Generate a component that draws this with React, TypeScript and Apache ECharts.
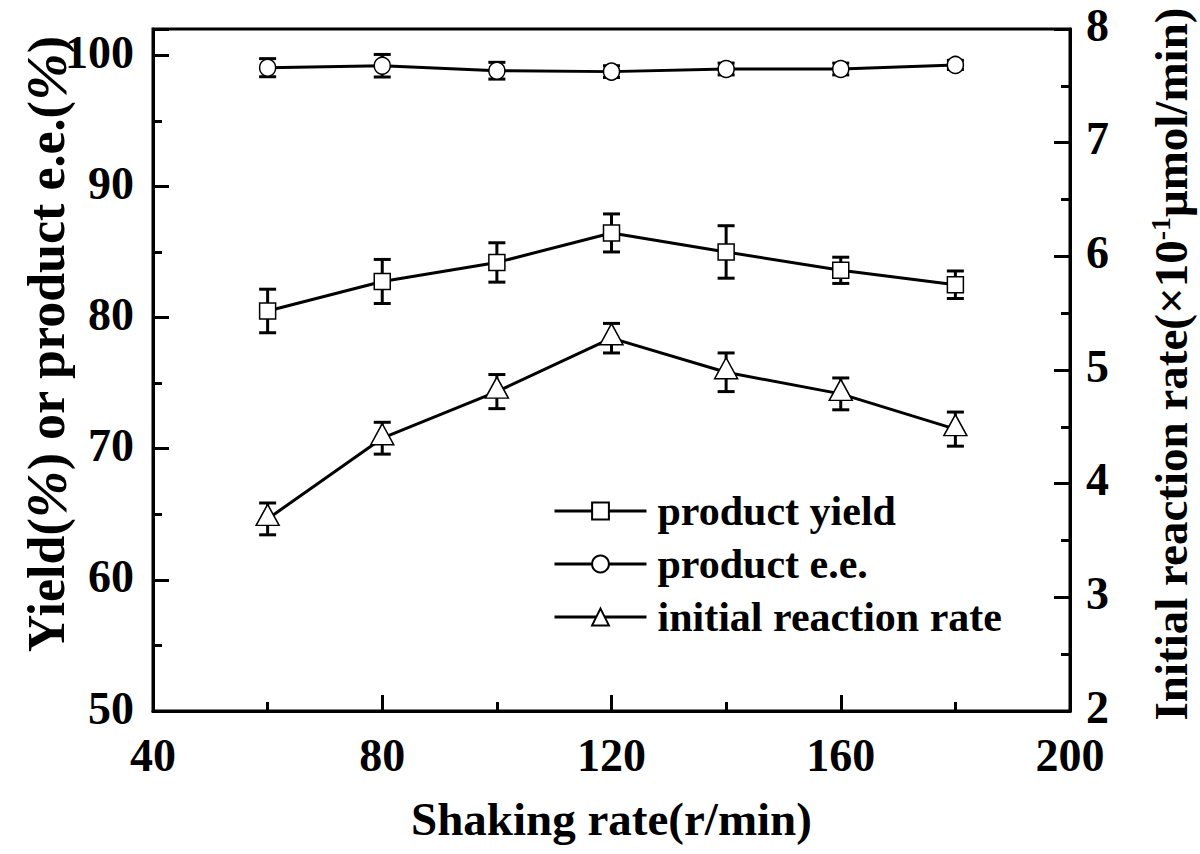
import { useEffect, useRef } from 'react';
import * as echarts from 'echarts';

const shakingRates = [60, 80, 100, 120, 140, 160, 180];
const yieldValues = [80.5, 82.75, 84.2, 86.45, 85.0, 83.6, 82.5];
const yieldErrors = [1.66, 1.68, 1.5, 1.45, 2.0, 1.0, 1.05];
const eeValues = [99.05, 99.2, 98.82, 98.75, 98.95, 98.95, 99.26];
const eeErrors = [0.69, 0.86, 0.64, 0.45, 0.45, 0.45, 0.35];
const rateValues = [3.69, 4.4, 4.81, 5.28, 4.98, 4.79, 4.48];
const rateErrors = [0.14, 0.14, 0.15, 0.13, 0.17, 0.14, 0.15];
const seriesNames = ['product yield', 'product e.e.', 'initial reaction rate'];
const leftTicks = [50, 60, 70, 80, 90, 100];

const FONT = "'Liberation Serif', 'Times New Roman', serif";

function pairs(vals: number[]) {
  return shakingRates.map((x, i) => [x, vals[i]]);
}
function errData(vals: number[], errs: number[]) {
  return shakingRates.map((x, i) => [x, vals[i] - errs[i], vals[i] + errs[i]]);
}

function errorBarSeries(vals: number[], errs: number[], yAxisIndex: number) {
  return {
    type: 'custom',
    yAxisIndex,
    z: 1,
    silent: true,
    data: errData(vals, errs),
    encode: { x: 0, y: [1, 2] },
    renderItem: (params: any, api: any) => {
      const x = api.value(0);
      const lo = api.coord([x, api.value(1)]);
      const hi = api.coord([x, api.value(2)]);
      const hw = 8.5;
      const st = { stroke: '#000', lineWidth: 3 };
      return {
        type: 'group',
        children: [
          { type: 'line', shape: { x1: lo[0], y1: lo[1], x2: hi[0], y2: hi[1] }, style: st },
          { type: 'line', shape: { x1: lo[0] - hw, y1: lo[1], x2: lo[0] + hw, y2: lo[1] }, style: st },
          { type: 'line', shape: { x1: hi[0] - hw, y1: hi[1], x2: hi[0] + hw, y2: hi[1] }, style: st },
        ],
      };
    },
  };
}

export default function App() {
  const ref = useRef<HTMLDivElement>(null);
  useEffect(() => {
    if (!ref.current) return;
    const chart = echarts.init(ref.current, null, { renderer: 'svg' });
    const labelStyle = { fontFamily: FONT, fontWeight: 'bold', fontSize: 46, color: '#000' };
    const markerStyle = { color: '#fff', borderColor: '#000', borderWidth: 1.5 };
    const lineStyle = { color: '#000', width: 3 };
    chart.setOption({
      animation: false,
      backgroundColor: '#fff',
      grid: { left: 153, right: 130, top: 29, bottom: 143, show: true, borderColor: '#000', borderWidth: 3 },
      xAxis: {
        type: 'value',
        min: 40,
        max: 200,
        interval: 40,
        name: 'Shaking rate(r/min)',
        nameLocation: 'middle',
        nameGap: 84,
        nameTextStyle: { fontFamily: FONT, fontWeight: 'bold', fontSize: 47, color: '#000' },
        axisLine: { lineStyle: { color: '#000', width: 3 } },
        axisTick: { inside: true, length: 16, lineStyle: { color: '#000', width: 3 } },
        minorTick: { show: true, splitNumber: 2, length: 9, lineStyle: { color: '#000', width: 3 } },
        axisLabel: { ...labelStyle, lineHeight: 36, margin: 26 },
        splitLine: { show: false },
      },
      yAxis: [
        {
          type: 'value',
          position: 'left',
          min: 50,
          max: 102,
          interval: 10,
          axisLine: { show: true, lineStyle: { color: '#000', width: 3 } },
          axisTick: { show: true, inside: true, length: 16, lineStyle: { color: '#000', width: 3 } },
          axisLabel: {
            ...labelStyle,
            margin: 19,
            lineHeight: 6,
            verticalAlign: 'bottom',
            formatter: (v: number) => (leftTicks.includes(v) ? String(v) : ''),
          },
          splitLine: { show: false },
        },
        {
          type: 'value',
          position: 'right',
          min: 2,
          max: 8,
          interval: 1,
          axisLine: { show: true, lineStyle: { color: '#000', width: 3 } },
          axisTick: { show: true, inside: true, length: 16, lineStyle: { color: '#000', width: 3 } },
          minorTick: { show: true, splitNumber: 2, length: 9, lineStyle: { color: '#000', width: 3 } },
          axisLabel: { ...labelStyle, margin: 16, lineHeight: 8, verticalAlign: 'bottom' },
          splitLine: { show: false },
        },
        {
          type: 'value',
          position: 'left',
          min: 50,
          max: 102,
          interval: 5,
          axisLine: { show: false },
          axisTick: { show: true, inside: true, length: 9, lineStyle: { color: '#000', width: 3 } },
          axisLabel: { show: false },
          splitLine: { show: false },
        },
      ],
      legend: {
        orient: 'vertical',
        left: 548,
        top: 485,
        itemWidth: 92,
        itemHeight: 21,
        itemGap: 11,
        data: seriesNames,
        lineStyle: { width: 3, color: '#000' },
        textStyle: { fontFamily: FONT, fontWeight: 'bold', fontSize: 42, color: '#000', padding: [0, 0, 0, 6] },
      },
      graphic: [
        {
          type: 'text',
          x: 46,
          y: 344,
          rotation: Math.PI / 2,
          style: {
            text: '{b|Yield(}{i|%}{b|) or product e.e.(}{i|%}{b|)}',
            align: 'center',
            verticalAlign: 'middle',
            fill: '#000',
            rich: {
              b: { fontFamily: FONT, fontWeight: 'bold', fontSize: 52, fill: '#000' },
              i: { fontFamily: FONT, fontWeight: 'bold', fontStyle: 'italic', fontSize: 57, fill: '#000' },
            },
          },
        },
        {
          type: 'text',
          x: 1171,
          y: 364,
          rotation: Math.PI / 2,
          style: {
            text: '{b|Initial reaction rate(×10}{s|-1}{b|μmol/min)}',
            align: 'center',
            verticalAlign: 'middle',
            fill: '#000',
            rich: {
              b: { fontFamily: FONT, fontWeight: 'bold', fontSize: 47, lineHeight: 50, fill: '#000' },
              s: { fontFamily: FONT, fontWeight: 'bold', fontSize: 28, lineHeight: 30, verticalAlign: 'top', fill: '#000' },
            },
          },
        },
      ],
      series: [
        errorBarSeries(yieldValues, yieldErrors, 0),
        errorBarSeries(eeValues, eeErrors, 0),
        errorBarSeries(rateValues, rateErrors, 1),
        {
          name: seriesNames[0],
          type: 'line',
          yAxisIndex: 0,
          z: 3,
          data: pairs(yieldValues),
          symbol: 'rect',
          symbolSize: 16,
          itemStyle: markerStyle,
          lineStyle,
        },
        {
          name: seriesNames[1],
          type: 'line',
          yAxisIndex: 0,
          z: 3,
          data: pairs(eeValues),
          symbol: 'circle',
          symbolSize: [16, 17],
          itemStyle: markerStyle,
          lineStyle,
        },
        {
          name: seriesNames[2],
          type: 'line',
          yAxisIndex: 1,
          z: 3,
          data: pairs(rateValues),
          symbol: 'triangle',
          symbolSize: [23, 21],
          symbolOffset: [0, -4],
          itemStyle: markerStyle,
          lineStyle,
        },
      ],
    });
    return () => chart.dispose();
  }, []);
  return (
    <div
      ref={ref}
      style={{ position: 'fixed', left: 0, top: 0, width: 1200, height: 854, background: '#fff' }}
    />
  );
}
